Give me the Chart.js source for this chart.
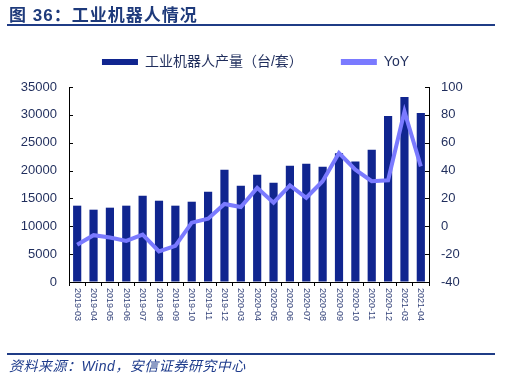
<!DOCTYPE html>
<html>
<head>
<meta charset="utf-8">
<script src="https://cdn.jsdelivr.net/npm/chart.js@4/dist/chart.umd.min.js"></script>
<style>
  html, body { margin: 0; padding: 0; background: #ffffff; }
  #wrap { position: relative; width: 511px; height: 378px; overflow: hidden; background: #fff; }
  #c { position: absolute; left: 0; top: 0; }
  .title { position: absolute; left: 9px; top: 1px; font: bold 17px "Liberation Sans", "Noto Sans CJK SC", sans-serif; color: #1E3A7B; letter-spacing: 1px; white-space: nowrap; }
  .rule { position: absolute; left: 7px; width: 488px; height: 2px; background: #1F3C86; }
  .src { position: absolute; left: 9px; top: 355px; font: italic 14px "Liberation Sans", "Noto Sans CJK SC", sans-serif; color: #1F3C8C; letter-spacing: 0.5px; white-space: nowrap; }
</style>
</head>
<body>
<div id="wrap">
  <canvas id="c" width="511" height="378"></canvas>
  <div class="title">图 36：工业机器人情况</div>
  <div class="rule" style="top:24px"></div>
  <div class="rule" style="top:353px"></div>
  <div class="src">资料来源：Wind，安信证券研究中心</div>
</div>
<script>
const categories = ['2019-03','2019-04','2019-05','2019-06','2019-07','2019-08','2019-09','2019-10','2019-11','2019-12','2020-03','2020-04','2020-05','2020-06','2020-07','2020-08','2020-09','2020-10','2020-11','2020-12','2021-03','2021-04'];
const production = [13700,12980,13340,13700,15490,14590,13700,14410,16200,20140,17280,19250,17810,20860,21210,20680,23130,21630,23720,29810,33210,30340];
const yoy = [-13.3,-6.4,-8.1,-10.5,-6.0,-18.1,-14.0,2.6,5.5,16.0,13.8,27.6,16.9,29.3,20.5,32.4,52.6,40.7,32.4,33.0,82.4,43.0];
const leftTicks = [0,5000,10000,15000,20000,25000,30000,35000];
const rightTicks = [-40,-20,0,20,40,60,80,100];

const barName = '工业机器人产量（台/套）';
const lineName = 'YoY';
const BAR_COLOR = '#10258F';
const LINE_COLOR = '#7A7AFF';
const TEXT_COLOR = '#1F2D5C';

const extras = {
  id: 'extras',
  afterDraw(chart) {
    const ctx = chart.ctx;
    const ca = chart.chartArea;
    const y = chart.scales.y, y1 = chart.scales.y1, x = chart.scales.x;
    ctx.save();
    ctx.strokeStyle = '#000';
    ctx.lineWidth = 1;
    leftTicks.forEach(v => {
      const p = Math.round(y.getPixelForValue(v)) + 0.5;
      ctx.beginPath(); ctx.moveTo(ca.left, p); ctx.lineTo(ca.left + 4, p); ctx.stroke();
    });
    rightTicks.forEach(v => {
      const p = Math.round(y1.getPixelForValue(v)) + 0.5;
      ctx.beginPath(); ctx.moveTo(ca.right - 4, p); ctx.lineTo(ca.right, p); ctx.stroke();
    });
    ctx.font = '9px "Liberation Sans", sans-serif';
    ctx.fillStyle = '#34437A';
    ctx.textAlign = 'left';
    ctx.textBaseline = 'middle';
    categories.forEach((lab, i) => {
      const px = x.getPixelForTick(i);
      ctx.save();
      ctx.translate(px, x.top + 6);
      ctx.rotate(Math.PI / 2);
      ctx.fillText(lab, 0, 0);
      ctx.restore();
    });
    ctx.restore();
  }
};

new Chart(document.getElementById('c'), {
  type: 'bar',
  data: {
    labels: categories,
    datasets: [
      { type: 'bar', label: barName, data: production, yAxisID: 'y', backgroundColor: BAR_COLOR, borderWidth: 0, barPercentage: 0.5, categoryPercentage: 1.0, order: 2 },
      { type: 'line', label: lineName, data: yoy, yAxisID: 'y1', borderColor: LINE_COLOR, backgroundColor: LINE_COLOR, borderWidth: 4, pointRadius: 0, tension: 0, order: 1 }
    ]
  },
  options: {
    responsive: false,
    animation: false,
    layout: { padding: { top: 17, left: 0, right: 0, bottom: 0 } },
    plugins: {
      tooltip: { enabled: false },
      legend: {
        position: 'top',
        labels: {
          boxWidth: 36,
          boxHeight: 6,
          padding: 38,
          color: TEXT_COLOR,
          font: { size: 14, family: '"Liberation Sans", "Noto Sans CJK SC", sans-serif' },
          sort: (a, b) => a.datasetIndex - b.datasetIndex,
          generateLabels(chart) {
            const items = Chart.defaults.plugins.legend.labels.generateLabels(chart);
            items.forEach(it => { it.lineWidth = 0; it.strokeStyle = 'rgba(0,0,0,0)'; });
            return items;
          }
        }
      }
    },
    scales: {
      x: {
        position: 'bottom',
        offset: true,
        grid: { display: true, drawOnChartArea: false, drawTicks: true, tickLength: 4, color: '#000', offset: true },
        border: { display: true, color: '#000', width: 1 },
        ticks: { display: false },
        afterFit: s => { s.height = 96; }
      },
      xTop: {
        type: 'category',
        position: 'top',
        display: true,
        grid: { display: false },
        border: { display: false },
        ticks: { display: false },
        afterFit: s => { s.height = 8; }
      },
      y: {
        position: 'left',
        min: 0, max: 35000,
        ticks: { stepSize: 5000, padding: 12, color: TEXT_COLOR, font: { size: 13, family: '"Liberation Sans", sans-serif' }, callback: v => String(v) },
        grid: { display: true, drawOnChartArea: false, drawTicks: false },
        border: { display: true, color: '#000', width: 1 },
        afterFit: s => { s.width = 69; }
      },
      y1: {
        position: 'right',
        min: -40, max: 100,
        ticks: { stepSize: 20, padding: 12, color: TEXT_COLOR, font: { size: 13, family: '"Liberation Sans", sans-serif' }, callback: v => String(v) },
        grid: { display: true, drawOnChartArea: false, drawTicks: false },
        border: { display: true, color: '#000', width: 1 },
        afterFit: s => { s.width = 82; }
      }
    }
  },
  plugins: [extras]
});
</script>
</body>
</html>
